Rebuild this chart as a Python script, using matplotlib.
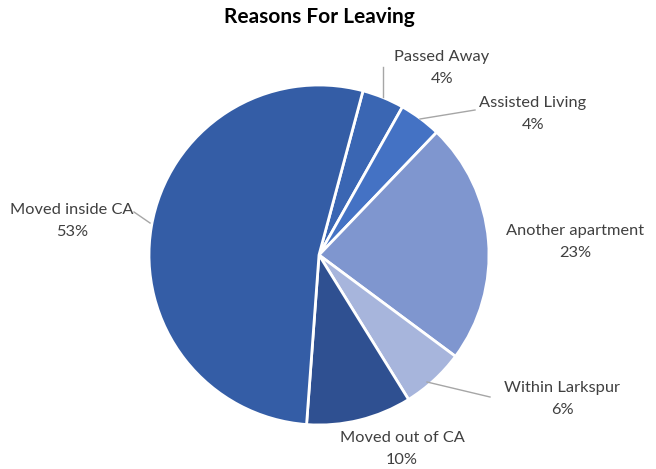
import matplotlib
matplotlib.use("Agg")
from matplotlib import pyplot as plt

#datos del grafico
razones = ["Passed Away", "Assisted Living", "Another apartment",
           "Within Larkspur", "Moved out of CA", "Moved inside CA"]
porcentajes = [4, 4, 23, 6, 10, 53]
colores = ["#3A66B3", "#4472C4", "#7F96CF", "#A7B5DC", "#2F5091", "#345DA6"]

plt.rcParams['font.family'] = ['Lato', 'DejaVu Sans']

fig = plt.figure(figsize=(6.56, 4.69), dpi=100)
ax = fig.add_axes([0, 0, 1, 1])

H = 469
centro = (319, H - 255)
ax.pie(porcentajes, colors=colores, startangle=75, counterclock=False,
       center=centro, radius=170, frame=True,
       wedgeprops=dict(edgecolor="white", linewidth=2))
ax.set_xlim(0, 656)
ax.set_ylim(0, 469)
ax.set_aspect("equal")
ax.axis("off")

#etiquetas (posiciones)
posiciones = [(442, 57), (533, 103), (575, 231), (562, 388), (402, 438), (72, 210)]
for nombre, p, (x, y) in zip(razones, porcentajes, posiciones):
    ax.text(x, H - y, nombre, ha="center", va="center", fontsize=11.8, color="#404040")
    ax.text(x, H - y - 22, f"{p}%", ha="center", va="center", fontsize=11.8, color="#404040")

#lineas guia
guias = [[(383, 67), (383, 97)],
         [(475, 110), (420, 119)],
         [(490, 397), (427, 382)],
         [(134, 212), (150, 223)]]
for (x1, y1), (x2, y2) in guias:
    ax.plot([x1, x2], [H - y1, H - y2], color="#A6A6A6", linewidth=1)

fig.text(319 / 656, 1 - 17 / 469, "Reasons For Leaving", ha="center", va="center",
         fontsize=15, fontweight="bold", color="black")

plt.savefig("out.png", dpi=100)
